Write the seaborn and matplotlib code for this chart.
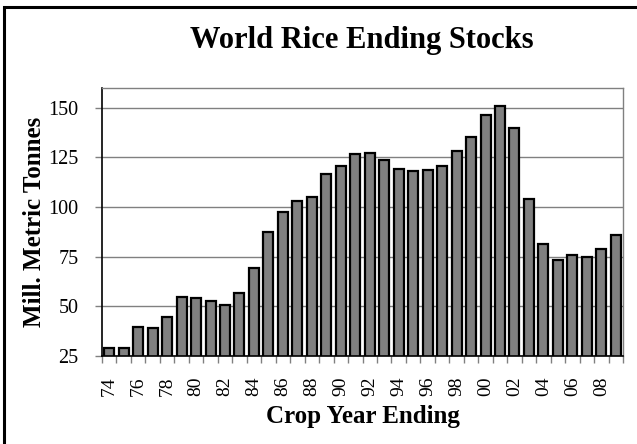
import matplotlib
matplotlib.use("Agg")
import matplotlib.pyplot as plt
import seaborn as sns
import pandas as pd
import numpy as np

years = ['74', '75', '76', '77', '78', '79', '80', '81', '82', '83', '84', '85',
         '86', '87', '88', '89', '90', '91', '92', '93', '94', '95', '96', '97',
         '98', '99', '00', '01', '02', '03', '04', '05', '06', '07', '08', '09']
stocks = [29.2, 28.9, 39.5, 39.0, 44.8, 54.7, 54.1, 52.7, 50.5, 56.9, 69.2, 87.7,
          97.6, 103.3, 105.3, 116.9, 120.7, 126.9, 127.1, 123.6, 119.4, 118.0, 118.5, 120.7,
          128.3, 135.2, 146.6, 150.7, 139.6, 103.9, 81.2, 73.3, 76.0, 75.1, 78.7, 86.2]
yticks = [25, 50, 75, 100, 125, 150]

df = pd.DataFrame({'year': years, 'stocks': stocks})

sns.set_style('white')
plt.rcParams['font.family'] = ['Liberation Serif', 'DejaVu Serif']
plt.rcParams['text.color'] = 'black'
plt.rcParams['axes.labelcolor'] = 'black'

fig = plt.figure(figsize=(6.37, 4.44), dpi=100)
ax = fig.add_axes([102 / 637, 1 - 356 / 444, 521 / 637, 268 / 444])

sns.barplot(data=df, x='year', y='stocks', color='#808080', saturation=1,
            width=0.69, edgecolor='black', linewidth=1.6, ax=ax)

ax.set_ylim(25, 160)
ax.set_xlim(-0.5, len(years) - 0.5)
ax.set_yticks(yticks)
ax.set_yticklabels([str(t) for t in yticks], fontsize=14.5)
ax.yaxis.grid(True, color='#808080', linewidth=1)
ax.set_axisbelow(True)

# labels every other year, ticks on category boundaries
ax.set_xticks(range(0, len(years), 2))
ax.set_xticklabels(years[::2], rotation=90, fontsize=14)
ax.set_xticks(np.arange(-0.5, len(years), 1), minor=True)
ax.tick_params(axis='x', which='major', length=0, pad=15, labelcolor='black')
ax.tick_params(axis='x', which='minor', length=5, color='#808080', width=1, bottom=True)
ax.tick_params(axis='y', length=5, color='#808080', width=1, left=True, pad=12,
               labelcolor='black')

for side in ['top', 'right']:
    ax.spines[side].set_color('#808080')
    ax.spines[side].set_linewidth(1)
for side in ['left', 'bottom']:
    ax.spines[side].set_color('black')
    ax.spines[side].set_linewidth(1.2)

ax.set_xlabel('Crop Year Ending', fontsize=18, fontweight='bold', va='baseline')
ax.xaxis.set_label_coords(0.5, (356 - 423) / 268)
ax.set_ylabel('Mill. Metric Tonnes', fontsize=18, fontweight='bold', va='center')
ax.yaxis.set_label_coords((35 - 102) / 521, 0.5)
fig.text(362 / 637, 1 - 48 / 444, 'World Rice Ending Stocks', ha='center', va='baseline',
         fontsize=22, fontweight='bold')

# chart frame, cropped on the right and bottom
frame = plt.Rectangle((4 / 637, -0.1), 1.2, 1 - 7 / 444 + 0.1, transform=fig.transFigure,
                      fill=False, edgecolor='black', linewidth=2.2)
fig.patches.append(frame)

fig.savefig('out.png', dpi=100)
